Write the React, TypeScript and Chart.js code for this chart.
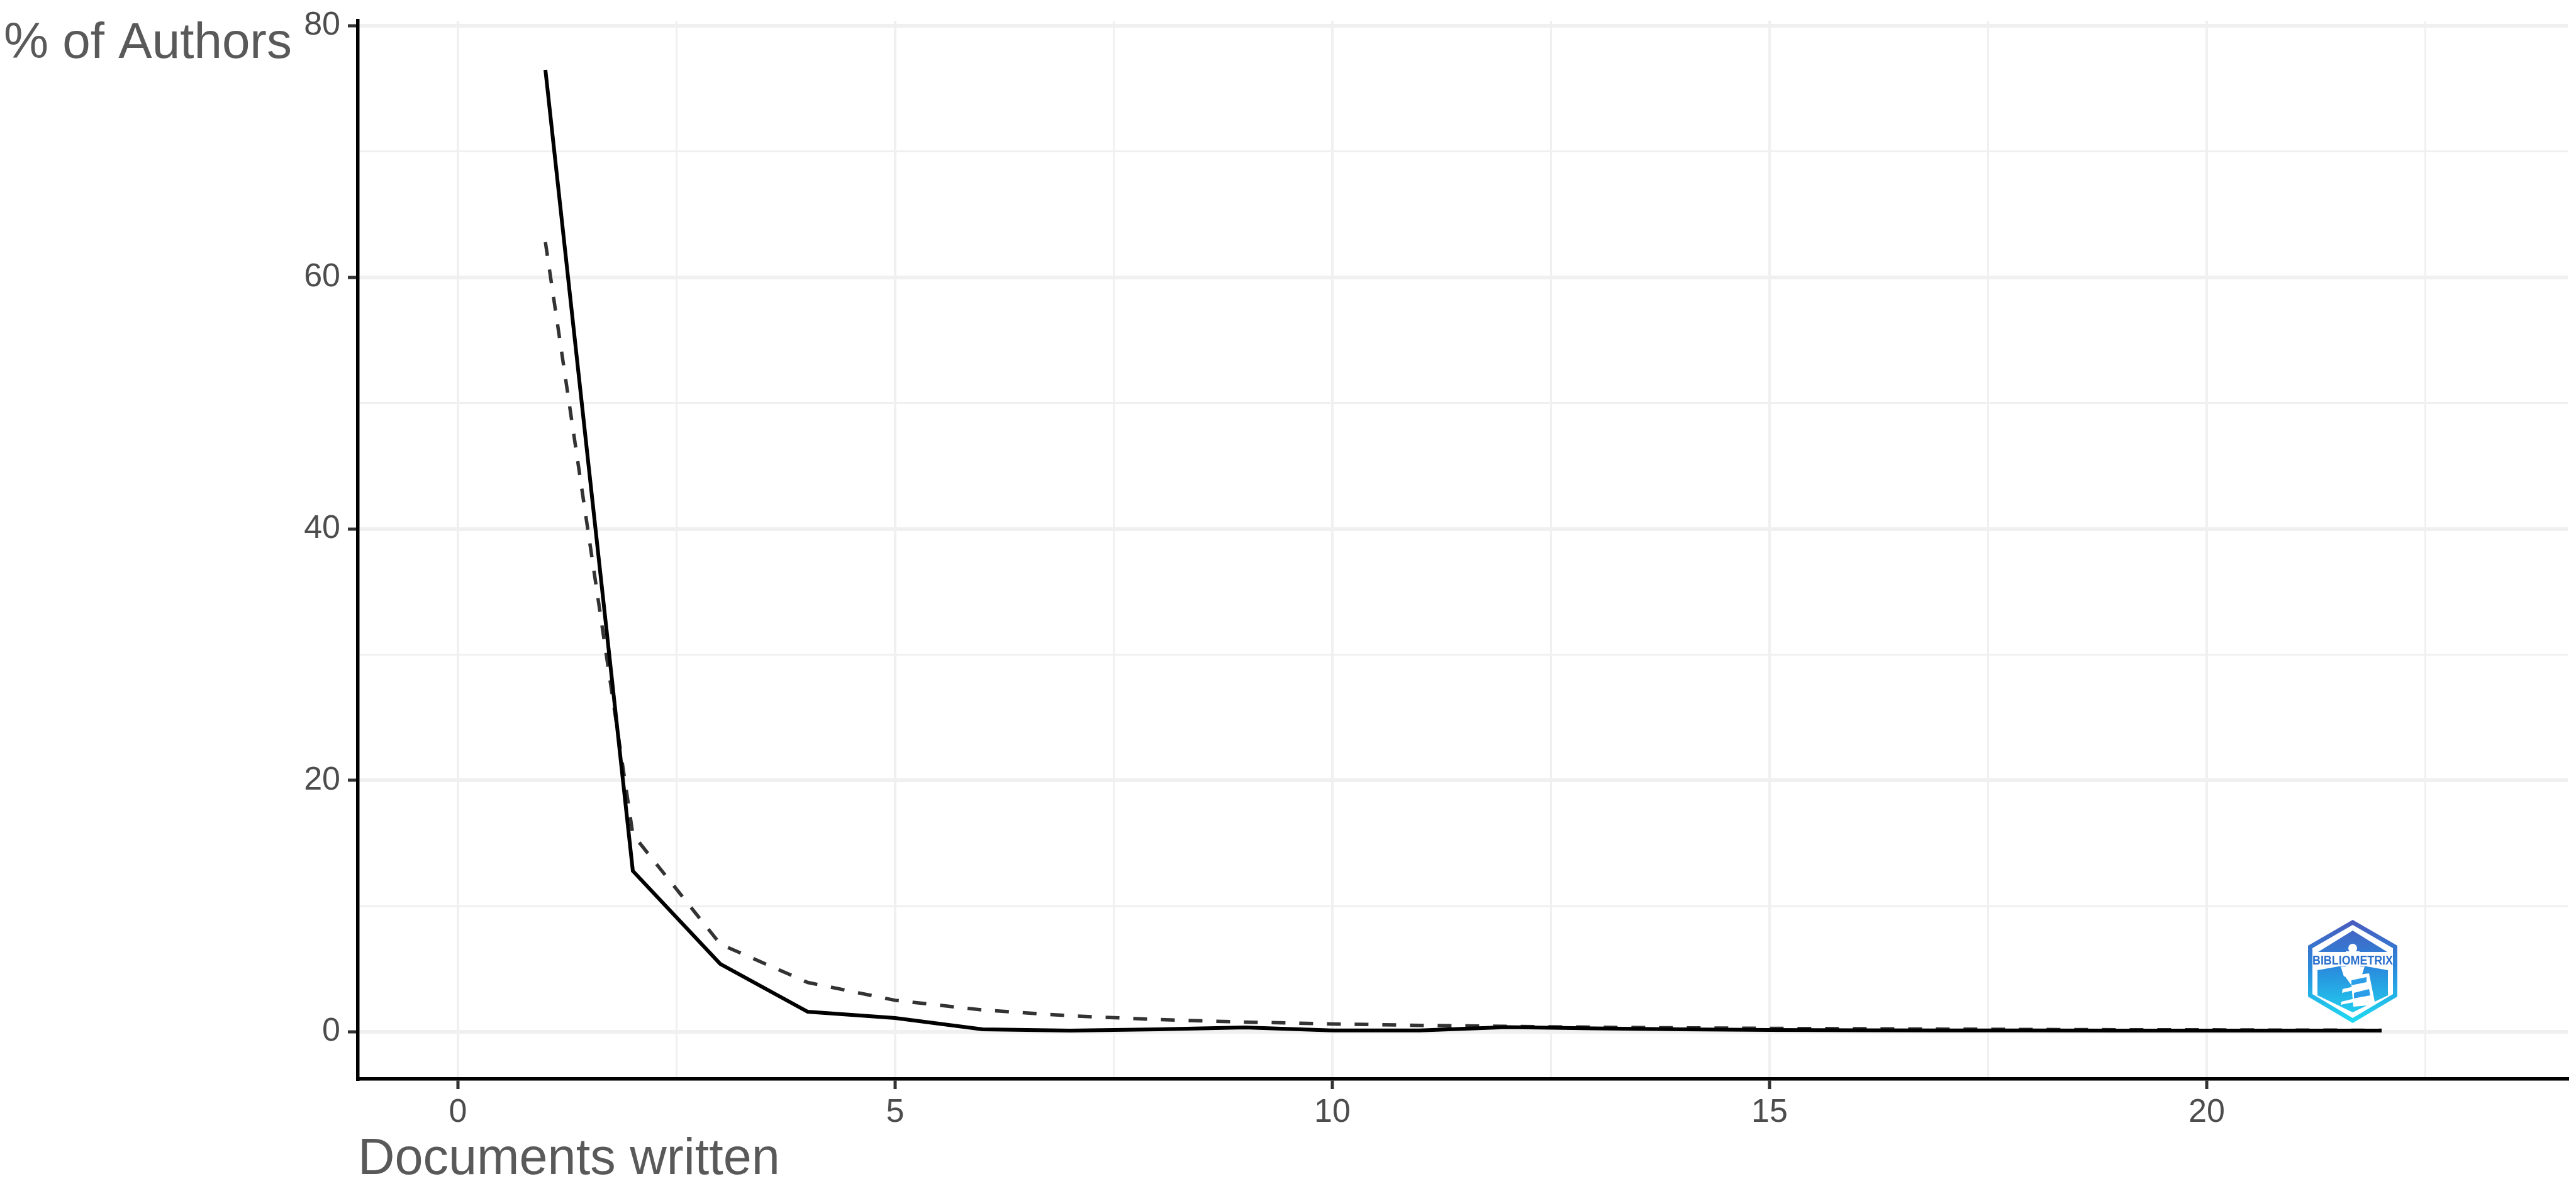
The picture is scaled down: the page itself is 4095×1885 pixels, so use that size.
import React, { useEffect, useRef } from "react";
import { Chart, registerables } from "chart.js";

Chart.register(...registerables);

const documentsWritten = [1, 2, 3, 4, 5, 6, 7, 8, 9, 10, 11, 12, 13, 14, 15, 16, 17, 18, 19, 20, 21, 22];
const observedAuthors = [76.5, 12.8, 5.4, 1.6, 1.1, 0.2, 0.1, 0.2, 0.35, 0.12, 0.12, 0.38, 0.28, 0.2, 0.15, 0.13, 0.12, 0.12, 0.1, 0.1, 0.1, 0.1];
const theoreticalAuthors = [62.8, 15.7, 6.98, 3.93, 2.51, 1.74, 1.28, 0.98, 0.78, 0.63, 0.52, 0.44, 0.37, 0.32, 0.28, 0.25, 0.22, 0.19, 0.17, 0.16, 0.14, 0.13];
const xTickValues = [0, 2.5, 5, 7.5, 10, 12.5, 15, 17.5, 20, 22.5];
const yTickValues = [0, 10, 20, 30, 40, 50, 60, 70, 80];
const xTitle = "Documents written";
const yTitle = "% of Authors";
const logoLabel = "BIBLIOMETRIX";

const FONT = '"Liberation Sans", Arial, sans-serif';

const hex = (ctx: any, cx: number, top: number, sh1: number, sh2: number, bottom: number, hw: number) => {
  ctx.beginPath();
  ctx.moveTo(cx, top);
  ctx.lineTo(cx + hw, sh1);
  ctx.lineTo(cx + hw, sh2);
  ctx.lineTo(cx, bottom);
  ctx.lineTo(cx - hw, sh2);
  ctx.lineTo(cx - hw, sh1);
  ctx.closePath();
};

const annotations = {
  id: "annotations",
  afterDraw(chart: any) {
    const ctx = chart.ctx;
    ctx.save();
    // horizontal y-axis title at the top-left
    ctx.font = `80px ${FONT}`;
    ctx.fillStyle = "#595959";
    ctx.textAlign = "left";
    ctx.textBaseline = "alphabetic";
    ctx.fillText(yTitle, 6, 92);

    // logo badge
    const cx = 3740;
    const g = ctx.createLinearGradient(0, 1462, 0, 1626);
    g.addColorStop(0, "#4a5bbd");
    g.addColorStop(0.45, "#2a88dc");
    g.addColorStop(1, "#1fdcf2");
    ctx.strokeStyle = g;
    ctx.fillStyle = g;
    ctx.lineWidth = 7;
    ctx.lineJoin = "miter";
    hex(ctx, cx, 1466, 1505, 1582, 1622, 67.5);
    ctx.stroke();
    ctx.beginPath();
    ctx.moveTo(cx, 1479);
    ctx.lineTo(cx + 55, 1513);
    ctx.lineTo(cx - 55, 1513);
    ctx.closePath();
    ctx.fill();
    ctx.beginPath();
    ctx.moveTo(cx - 56, 1542);
    ctx.lineTo(cx, 1532);
    ctx.lineTo(cx + 56, 1542);
    ctx.lineTo(cx + 56, 1582);
    ctx.lineTo(cx, 1609);
    ctx.lineTo(cx - 56, 1582);
    ctx.closePath();
    ctx.fill();
    // lighthouse
    ctx.fillStyle = "#ffffff";
    ctx.beginPath();
    ctx.arc(cx, 1507, 7, 0, Math.PI * 2);
    ctx.fill();
    ctx.fillRect(cx - 11, 1512, 22, 24);
    ctx.beginPath();
    ctx.moveTo(cx - 19, 1536);
    ctx.lineTo(cx + 19, 1536);
    ctx.lineTo(cx + 14, 1552);
    ctx.lineTo(cx - 14, 1552);
    ctx.closePath();
    ctx.fill();
    ctx.beginPath();
    ctx.moveTo(cx - 12, 1552);
    ctx.lineTo(cx + 26, 1547);
    ctx.lineTo(cx + 36, 1597);
    ctx.lineTo(cx + 1, 1600);
    ctx.lineTo(cx - 2, 1566);
    ctx.closePath();
    ctx.fill();
    // lighthouse stripes
    ctx.fillStyle = "#2a9ee8";
    ctx.beginPath();
    ctx.moveTo(cx - 2, 1558);
    ctx.lineTo(cx + 22, 1553);
    ctx.lineTo(cx + 22, 1561);
    ctx.lineTo(cx - 2, 1566);
    ctx.closePath();
    ctx.fill();
    ctx.beginPath();
    ctx.moveTo(cx + 2, 1578);
    ctx.lineTo(cx + 26, 1572);
    ctx.lineTo(cx + 28, 1582);
    ctx.lineTo(cx + 2, 1587);
    ctx.closePath();
    ctx.fill();
    ctx.fillStyle = "#ffffff";
    ctx.beginPath();
    ctx.moveTo(cx - 16, 1572);
    ctx.lineTo(cx + 14, 1565);
    ctx.lineTo(cx + 14, 1571);
    ctx.lineTo(cx - 17, 1578);
    ctx.closePath();
    ctx.fill();
    ctx.beginPath();
    ctx.moveTo(cx - 18, 1592);
    ctx.lineTo(cx + 16, 1584);
    ctx.lineTo(cx + 16, 1590);
    ctx.lineTo(cx - 19, 1597);
    ctx.closePath();
    ctx.fill();
    // label band
    ctx.fillStyle = "#ffffff";
    ctx.fillRect(cx - 64, 1519, 128, 16);
    ctx.fillStyle = "#2a6fcb";
    ctx.font = `bold 20px "Liberation Sans Narrow", ${FONT}`;
    ctx.textAlign = "center";
    ctx.textBaseline = "middle";
    ctx.fillText(logoLabel, cx, 1527, 128);
    ctx.restore();
  },
};

export default function App() {
  const ref = useRef<HTMLCanvasElement>(null);
  useEffect(() => {
    const chart = new Chart(ref.current as HTMLCanvasElement, {
      type: "line",
      data: {
        datasets: [
          {
            label: "Observed",
            data: documentsWritten.map((x, i) => ({ x, y: observedAuthors[i] })),
            borderColor: "#000000",
            borderWidth: 6,
            pointRadius: 0,
            tension: 0,
          },
          {
            label: "Theoretical",
            data: documentsWritten.map((x, i) => ({ x, y: theoreticalAuthors[i] })),
            borderColor: "#333333",
            borderWidth: 5.5,
            borderDash: [22, 22],
            pointRadius: 0,
            tension: 0,
          },
        ],
      },
      options: {
        responsive: false,
        animation: false,
        layout: { autoPadding: false, padding: { top: 33, right: 13, left: 0, bottom: 0 } },
        plugins: { legend: { display: false }, title: { display: false }, tooltip: { enabled: false } },
        scales: {
          x: {
            type: "linear",
            min: -1.144,
            max: 24.13,
            afterBuildTicks: (axis: any) => {
              axis.ticks = xTickValues.map((value) => ({ value }));
            },
            afterFit: (axis: any) => {
              axis.height = 170;
              axis.paddingLeft = 0;
              axis.paddingRight = 0;
            },
            border: { display: true, color: "#000000", width: 5.5 },
            grid: {
              color: "#f0f0f0",
              lineWidth: (c: any) => (c.tick && c.tick.value % 5 === 0 ? 4 : 3),
              tickColor: (c: any) => (c.tick && c.tick.value % 5 === 0 ? "#333333" : "rgba(0,0,0,0)"),
              tickWidth: 5,
              tickLength: 16,
              drawTicks: true,
            },
            ticks: {
              autoSkip: false,
              maxRotation: 0,
              color: "#4d4d4d",
              font: { family: FONT, size: 52 },
              padding: 6,
              callback: (v: any) => (Number(v) % 5 === 0 ? String(v) : ""),
            },
            title: {
              display: true,
              text: xTitle,
              align: "start",
              color: "#595959",
              font: { family: FONT, size: 81, lineHeight: 1 },
              padding: { top: 0, bottom: 1 },
            },
          },
          y: {
            type: "linear",
            min: -3.75,
            max: 80.4,
            afterBuildTicks: (axis: any) => {
              axis.ticks = yTickValues.map((value) => ({ value }));
            },
            afterFit: (axis: any) => {
              axis.width = 569;
              axis.paddingTop = 0;
              axis.paddingBottom = 0;
            },
            border: { display: true, color: "#000000", width: 5.5 },
            grid: {
              color: "#f0f0f0",
              lineWidth: (c: any) => (c.tick && c.tick.value % 20 === 0 ? 6 : 3),
              tickColor: (c: any) => (c.tick && c.tick.value % 20 === 0 ? "#333333" : "rgba(0,0,0,0)"),
              tickWidth: 5,
              tickLength: 16,
              drawTicks: true,
            },
            ticks: {
              autoSkip: false,
              color: "#4d4d4d",
              font: { family: FONT, size: 52 },
              padding: 12,
              callback: (v: any) => (Number(v) % 20 === 0 ? String(v) : ""),
            },
          },
        },
      } as any,
      plugins: [annotations],
    });
    return () => chart.destroy();
  }, []);
  return (
    <div style={{ position: "absolute", left: 0, top: 0, width: 4095, height: 1885, background: "#ffffff" }}>
      <canvas ref={ref} width={4095} height={1885} style={{ display: "block" }} />
    </div>
  );
}
